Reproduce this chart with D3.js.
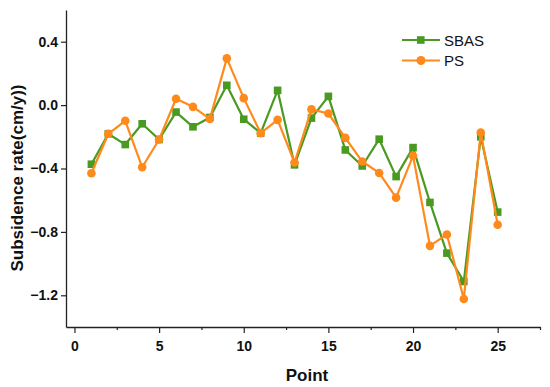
<!DOCTYPE html>
<html>
<head>
<meta charset="utf-8">
<script src="https://cdn.jsdelivr.net/npm/d3@7"></script>
<style>
  body { margin: 0; background: #fff; }
  svg { display: block; font-family: Arial, "Liberation Sans", Helvetica, sans-serif; }
</style>
</head>
<body>
<div id="chart"></div>
<script>
// Data
const points = [1, 2, 3, 4, 5, 6, 7, 8, 9, 10, 11, 12, 13, 14, 15, 16, 17, 18, 19, 20, 21, 22, 23, 24, 25];
const sbas = [-0.373, -0.181, -0.249, -0.118, -0.217, -0.044, -0.137, -0.078, 0.125, -0.089, -0.177, 0.093, -0.377,
  -0.082, 0.055, -0.283, -0.384, -0.215, -0.451, -0.268, -0.614, -0.934, -1.113, -0.200, -0.675];
const ps = [-0.430, -0.181, -0.099, -0.392, -0.217, 0.040, -0.011, -0.087, 0.295, 0.044, -0.177, -0.093, -0.362,
  -0.027, -0.053, -0.207, -0.356, -0.428, -0.584, -0.320, -0.888, -0.816, -1.223, -0.173, -0.755];
const xTicks = [0, 5, 10, 15, 20, 25];
const xMinorTicks = [2.5, 7.5, 12.5, 17.5, 22.5, 27.5];
const yTicks = [0.4, 0.0, -0.4, -0.8, -1.2];

const width = 550;
const height = 387;
const margin = { top: 10, right: 10, bottom: 60, left: 66 };

const svg = d3.select('#chart')
  .append('svg')
  .attr('width', width)
  .attr('height', height);

const x = d3.scaleLinear()
  .domain([-0.5, 27.5])
  .range([margin.left, width - margin.right]);

const y = d3.scaleLinear()
  .domain([-1.4, 0.6])
  .range([height - margin.bottom, margin.top]);

// Axes
const xAxis = svg.append('g')
  .attr('transform', `translate(0,${height - margin.bottom})`)
  .call(d3.axisBottom(x).tickValues(xTicks).tickFormat(d3.format('d')).tickSize(6).tickSizeOuter(0));

svg.append('g')
  .attr('transform', `translate(0,${height - margin.bottom})`)
  .call(d3.axisBottom(x).tickValues(xMinorTicks).tickFormat('').tickSize(3).tickSizeOuter(0))
  .select('.domain').remove();

const yAxis = svg.append('g')
  .attr('transform', `translate(${margin.left},0)`)
  .call(d3.axisLeft(y).tickValues(yTicks).tickFormat(d3.format('.1f')).tickSize(5).tickSizeOuter(0));

svg.selectAll('.domain').attr('stroke', '#222').attr('stroke-width', 1.3);
svg.selectAll('.tick line').attr('stroke', '#222').attr('stroke-width', 1.2);
svg.selectAll('.tick text')
  .attr('fill', '#111')
  .attr('font-size', '14px')
  .attr('font-weight', 'bold');
xAxis.selectAll('.tick text').attr('dy', '1.05em');
yAxis.selectAll('.tick text').attr('x', -8);

// Axis titles
svg.append('text')
  .attr('x', (margin.left + width - margin.right) / 2 + 4)
  .attr('y', 381)
  .attr('text-anchor', 'middle')
  .attr('font-size', '17px')
  .attr('font-weight', 'bold')
  .attr('fill', '#111')
  .text('Point');

svg.append('text')
  .attr('transform', `translate(23,178) rotate(-90)`)
  .attr('text-anchor', 'middle')
  .attr('font-size', '17px')
  .attr('font-weight', 'bold')
  .attr('fill', '#111')
  .text('Subsidence rate(cm/y))');

const series = [
  { name: 'SBAS', values: sbas, color: '#4a9a22', shape: 'square' },
  { name: 'PS', values: ps, color: '#ff8a1c', shape: 'circle' }
];

const line = d3.line()
  .x(d => x(d[0]))
  .y(d => y(d[1]));

series.forEach(s => {
  const data = points.map((p, i) => [p, s.values[i]]);
  const g = svg.append('g');
  g.append('path')
    .datum(data)
    .attr('fill', 'none')
    .attr('stroke', s.color)
    .attr('stroke-width', 2.2)
    .attr('stroke-linejoin', 'round')
    .attr('d', line);
  if (s.shape === 'square') {
    g.selectAll('rect')
      .data(data)
      .enter()
      .append('rect')
      .attr('x', d => x(d[0]) - 3.8)
      .attr('y', d => y(d[1]) - 3.8)
      .attr('width', 7.6)
      .attr('height', 7.6)
      .attr('fill', s.color);
  } else {
    g.selectAll('circle')
      .data(data)
      .enter()
      .append('circle')
      .attr('cx', d => x(d[0]))
      .attr('cy', d => y(d[1]))
      .attr('r', 4.3)
      .attr('fill', s.color);
  }
});

// Legend
const legend = svg.append('g').attr('transform', 'translate(402,40)');
series.forEach((s, i) => {
  const row = legend.append('g').attr('transform', `translate(0,${i * 20.5})`);
  row.append('line')
    .attr('x1', 0).attr('x2', 38)
    .attr('stroke', s.color)
    .attr('stroke-width', 2.2);
  if (s.shape === 'square') {
    row.append('rect')
      .attr('x', 15).attr('y', -3.8)
      .attr('width', 7.6).attr('height', 7.6)
      .attr('fill', s.color);
  } else {
    row.append('circle')
      .attr('cx', 19).attr('cy', 0).attr('r', 4.5)
      .attr('fill', s.color);
  }
  row.append('text')
    .attr('x', 42)
    .attr('y', 5.5)
    .attr('font-size', '15px')
    .attr('fill', '#111')
    .text(s.name);
});
</script>
</body>
</html>
